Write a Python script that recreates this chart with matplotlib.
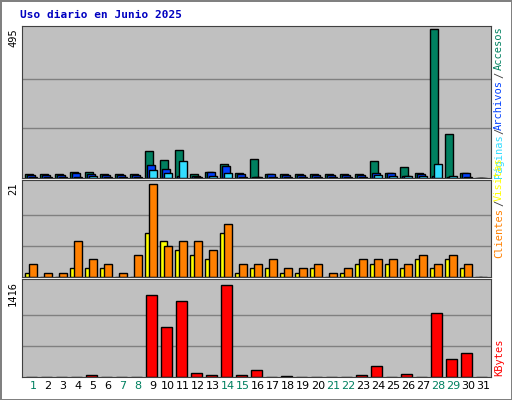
import numpy as np
import matplotlib.pyplot as plt

days = np.arange(1, 32)
accesos = [12, 12, 12, 20, 20, 12, 12, 12, 89, 59, 92, 12, 20, 48, 15, 62, 14, 12, 12, 12,
           12, 12, 12, 55, 18, 35, 15, 495, 145, 18, 0]
archivos = [10, 10, 10, 15, 12, 10, 10, 10, 43, 30, 5, 8, 20, 40, 12, 4, 14, 10, 10, 10,
            10, 10, 10, 17, 18, 8, 12, 5, 4, 15, 0]
paginas = [2, 2, 2, 3, 6, 2, 2, 2, 28, 16, 58, 4, 6, 16, 4, 4, 2, 2, 2, 2,
           2, 2, 4, 10, 5, 5, 5, 45, 8, 2, 0]
visitas = [1, 0, 0, 2, 2, 2, 0, 0, 10, 8, 6, 5, 4, 10, 1, 2, 2, 1, 1, 2,
           0, 1, 3, 3, 3, 2, 4, 2, 4, 2, 0]
clientes = [3, 1, 1, 8, 4, 3, 1, 5, 21, 7, 8, 8, 6, 12, 3, 3, 4, 2, 2, 3,
            1, 2, 4, 4, 4, 3, 5, 3, 5, 3, 0]
kbytes = [5, 5, 5, 5, 30, 5, 5, 5, 1261, 760, 1168, 67, 36, 1416, 36, 108, 5, 20, 5, 5,
          5, 5, 25, 170, 5, 52, 5, 977, 279, 362, 5]
weekend = [1, 7, 8, 14, 15, 21, 22, 28, 29]

W, H = 512, 400
fig = plt.figure(figsize=(5.12, 4.0), dpi=100, facecolor='white',
                 edgecolor='#808080', linewidth=2)


def add_axes(top, bottom):
    ax = fig.add_axes([22 / W, 1 - bottom / H, (491 - 22) / W, (bottom - top) / H])
    ax.set_facecolor('#c0c0c0')
    ax.set_xlim(0.27, 31.53)
    ax.set_xticks([])
    ax.set_yticks([])
    for s in ax.spines.values():
        s.set_color('#404040')
    return ax


ec = dict(edgecolor='black', linewidth=1)

ax1 = add_axes(26, 178)
ax1.set_ylim(0, 495 * 1.02)
for g in [165, 330]:
    ax1.axhline(g, color='#808080', lw=1, zorder=0)
ax1.bar(days - 0.27, accesos, width=0.5, color='#008060', **ec)
ax1.bar(days - 0.13, archivos, width=0.5, color='#0040ff', **ec)
ax1.bar(days, paginas, width=0.5, color='#33ddff', **ec)

ax2 = add_axes(180, 277)
ax2.set_ylim(0, 21 * 1.04)
for g in [7, 14]:
    ax2.axhline(g, color='#808080', lw=1, zorder=0)
ax2.bar(days - 0.3, visitas, width=0.5, color='#ffff00', **ec)
ax2.bar(days, clientes, width=0.5, color='#ff8000', **ec)

ax3 = add_axes(279, 377)
ax3.set_ylim(0, 1416 * 1.06)
for g in [472, 944]:
    ax3.axhline(g, color='#808080', lw=1, zorder=0)
ax3.bar(days - 0.1, kbytes, width=0.7, color='#ff0000', **ec)

for d in days:
    ax3.text(d, -0.04, str(d), transform=ax3.get_xaxis_transform(), ha='center', va='top',
             fontsize=8, color='#008060' if d in weekend else 'black')

fig.text(20 / W, 1 - 15 / H, 'Uso diario en Junio 2025', color='#0000c0', fontweight='bold',
         family='DejaVu Sans Mono', fontsize=8, va='center')
for txt, yt in [('495', 28), ('21', 182), ('1416', 281)]:
    fig.text(13 / W, 1 - yt / H, txt, rotation=90, fontsize=7.5, ha='center', va='top',
             family='DejaVu Sans Mono')

right = [('Accesos', 26, '#008060'), ('/', 72, '#404040'), ('Archivos', 80, '#0040ff'),
         ('/', 128, '#404040'), ('Páginas', 134, '#33ddff'), ('Visitas', 157, '#ffff00'),
         ('/', 200, '#404040'), ('Clientes', 208, '#ff8000'), ('KBytes', 338, '#ff0000')]
for txt, yt, c in right:
    fig.text(499 / W, 1 - yt / H, txt, rotation=90, fontsize=7.5, ha='center', va='top',
             color=c, family='DejaVu Sans Mono')

fig.savefig('out.png', dpi=100, facecolor=fig.get_facecolor(), edgecolor=fig.get_edgecolor())
